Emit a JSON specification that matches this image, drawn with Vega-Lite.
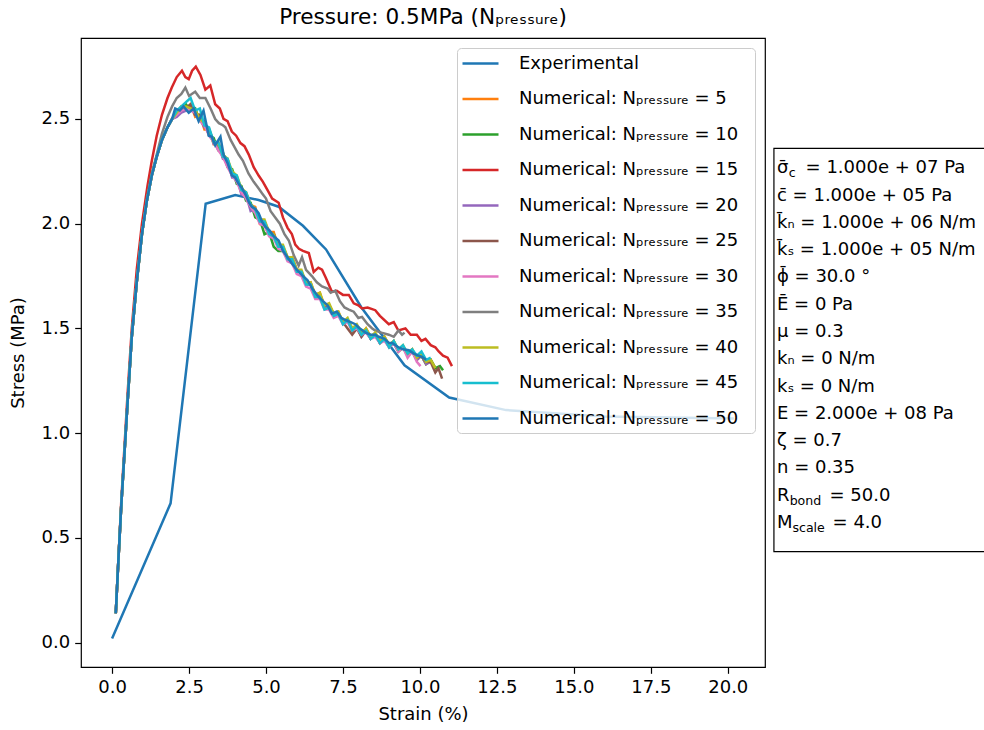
{
"$schema": "https://vega.github.io/schema/vega-lite/v6.json",
"width": 684, "height": 629,
"autosize": {"type": "none"},
"padding": {"left": 81, "top": 38, "right": 219, "bottom": 63},
"background": "white",
"title": {"text": "Pressure: 0.5MPa (Nₚᵣₑₛₛᵤᵣₑ)", "font": "DejaVu Sans", "fontSize": 21.6, "fontWeight": "normal", "color": "black", "anchor": "middle", "offset": 9},
"config": {
  "view": {"stroke": "black", "strokeWidth": 1.2},
  "axis": {"domain": false, "grid": false, "tickColor": "black", "tickSize": 6.3, "tickWidth": 1.2, "labelFont": "DejaVu Sans", "labelFontSize": 18, "labelColor": "black", "labelPadding": 5, "titleFont": "DejaVu Sans", "titleFontSize": 18, "titleFontWeight": "normal", "titleColor": "black"},
  "text": {"font": "DejaVu Sans"}
},
"layer": [
{
"data": {"values": [
{"s":"Experimental","x":0,"y":0.02},{"s":"Experimental","x":1.9,"y":0.665},{"s":"Experimental","x":3.04,"y":2.095},{"s":"Experimental","x":4.0,"y":2.137},{"s":"Experimental","x":4.76,"y":2.113},{"s":"Experimental","x":5.41,"y":2.081},{"s":"Experimental","x":6.2,"y":1.99},{"s":"Experimental","x":6.95,"y":1.877},{"s":"Experimental","x":8.1,"y":1.6},{"s":"Experimental","x":9.5,"y":1.324},{"s":"Experimental","x":10.95,"y":1.17},{"s":"Experimental","x":12.8,"y":1.11},{"s":"Experimental","x":16.0,"y":1.08},{"s":"Experimental","x":20.2,"y":1.07},

{"s":"5","x":0.12,"y":0.14},{"s":"5","x":0.2,"y":0.38},{"s":"5","x":0.3,"y":0.66},{"s":"5","x":0.4,"y":0.9},{"s":"5","x":0.5,"y":1.14},{"s":"5","x":0.64,"y":1.46},{"s":"5","x":0.8,"y":1.72},{"s":"5","x":0.97,"y":1.95},{"s":"5","x":1.13,"y":2.11},{"s":"5","x":1.29,"y":2.23},{"s":"5","x":1.45,"y":2.32},{"s":"5","x":1.62,"y":2.4},{"s":"5","x":1.8,"y":2.46},{"s":"5","x":1.95,"y":2.5},
{"s":"5","x":2.1,"y":2.53},{"s":"5","x":2.25,"y":2.56},{"s":"5","x":2.4,"y":2.55},{"s":"5","x":2.55,"y":2.57},{"s":"5","x":2.7,"y":2.51},{"s":"5","x":2.85,"y":2.52},{"s":"5","x":3.0,"y":2.45},{"s":"5","x":3.15,"y":2.45},{"s":"5","x":3.3,"y":2.38},{"s":"5","x":3.45,"y":2.39},{"s":"5","x":3.6,"y":2.32},{"s":"5","x":3.75,"y":2.31},{"s":"5","x":3.9,"y":2.23},{"s":"5","x":4.05,"y":2.22},{"s":"5","x":4.2,"y":2.15},{"s":"5","x":4.35,"y":2.15},{"s":"5","x":4.5,"y":2.09},{"s":"5","x":4.65,"y":2.08},{"s":"5","x":4.8,"y":2.0},{"s":"5","x":4.95,"y":2.01},{"s":"5","x":5.1,"y":1.96},{"s":"5","x":5.25,"y":1.96},{"s":"5","x":5.4,"y":1.89},{"s":"5","x":5.55,"y":1.89},{"s":"5","x":5.7,"y":1.83},{"s":"5","x":5.85,"y":1.84},{"s":"5","x":6.0,"y":1.78},{"s":"5","x":6.15,"y":1.77},{"s":"5","x":6.3,"y":1.71},{"s":"5","x":6.45,"y":1.72},{"s":"5","x":6.6,"y":1.66},{"s":"5","x":6.75,"y":1.67},{"s":"5","x":6.9,"y":1.6},{"s":"5","x":7.05,"y":1.61},{"s":"5","x":7.2,"y":1.57},{"s":"5","x":7.35,"y":1.58},{"s":"5","x":7.5,"y":1.525},{"s":"5","x":7.65,"y":1.54},{"s":"5","x":7.8,"y":1.485},{"s":"5","x":7.95,"y":1.51},{"s":"5","x":8.1,"y":1.47},{"s":"5","x":8.25,"y":1.5},{"s":"5","x":8.4,"y":1.46},{"s":"5","x":8.55,"y":1.47},{"s":"5","x":8.7,"y":1.43},{"s":"5","x":8.85,"y":1.46},{"s":"5","x":9.0,"y":1.42},{"s":"5","x":9.15,"y":1.44},{"s":"5","x":9.3,"y":1.39},{"s":"5","x":9.45,"y":1.41},{"s":"5","x":9.6,"y":1.38},{"s":"5","x":9.75,"y":1.4},{"s":"5","x":9.9,"y":1.35},{"s":"5","x":10.05,"y":1.37},{"s":"5","x":10.2,"y":1.33},{"s":"5","x":10.35,"y":1.35},{"s":"5","x":10.5,"y":1.31},{"s":"5","x":10.65,"y":1.3},

{"s":"10","x":0.12,"y":0.14},{"s":"10","x":0.2,"y":0.38},{"s":"10","x":0.3,"y":0.66},{"s":"10","x":0.4,"y":0.9},{"s":"10","x":0.5,"y":1.14},{"s":"10","x":0.64,"y":1.46},{"s":"10","x":0.8,"y":1.72},{"s":"10","x":0.97,"y":1.95},{"s":"10","x":1.13,"y":2.11},{"s":"10","x":1.29,"y":2.23},{"s":"10","x":1.45,"y":2.32},{"s":"10","x":1.62,"y":2.4},{"s":"10","x":1.8,"y":2.46},{"s":"10","x":1.95,"y":2.5},
{"s":"10","x":2.1,"y":2.52},{"s":"10","x":2.25,"y":2.54},{"s":"10","x":2.4,"y":2.57},{"s":"10","x":2.55,"y":2.54},{"s":"10","x":2.7,"y":2.55},{"s":"10","x":2.85,"y":2.49},{"s":"10","x":3.0,"y":2.49},{"s":"10","x":3.15,"y":2.42},{"s":"10","x":3.3,"y":2.41},{"s":"10","x":3.45,"y":2.35},{"s":"10","x":3.6,"y":2.34},{"s":"10","x":3.75,"y":2.27},{"s":"10","x":3.9,"y":2.26},{"s":"10","x":4.05,"y":2.19},{"s":"10","x":4.2,"y":2.18},{"s":"10","x":4.35,"y":2.11},{"s":"10","x":4.5,"y":2.1},{"s":"10","x":4.65,"y":2.03},{"s":"10","x":4.8,"y":2.02},{"s":"10","x":4.95,"y":1.95},{"s":"10","x":5.1,"y":1.96},{"s":"10","x":5.25,"y":1.89},{"s":"10","x":5.4,"y":1.87},{"s":"10","x":5.55,"y":1.87},{"s":"10","x":5.7,"y":1.83},{"s":"10","x":5.85,"y":1.83},{"s":"10","x":6.0,"y":1.77},{"s":"10","x":6.15,"y":1.77},{"s":"10","x":6.3,"y":1.71},{"s":"10","x":6.45,"y":1.71},{"s":"10","x":6.6,"y":1.65},{"s":"10","x":6.75,"y":1.66},{"s":"10","x":6.9,"y":1.6},{"s":"10","x":7.05,"y":1.61},{"s":"10","x":7.2,"y":1.56},{"s":"10","x":7.35,"y":1.57},{"s":"10","x":7.5,"y":1.53},{"s":"10","x":7.65,"y":1.54},{"s":"10","x":7.8,"y":1.5},{"s":"10","x":7.95,"y":1.51},{"s":"10","x":8.1,"y":1.47},{"s":"10","x":8.25,"y":1.49},{"s":"10","x":8.4,"y":1.45},{"s":"10","x":8.55,"y":1.47},{"s":"10","x":8.7,"y":1.43},{"s":"10","x":8.85,"y":1.45},{"s":"10","x":9.0,"y":1.41},{"s":"10","x":9.15,"y":1.43},{"s":"10","x":9.3,"y":1.39},{"s":"10","x":9.45,"y":1.41},{"s":"10","x":9.6,"y":1.37},{"s":"10","x":9.75,"y":1.39},{"s":"10","x":9.9,"y":1.35},{"s":"10","x":10.05,"y":1.37},{"s":"10","x":10.2,"y":1.33},{"s":"10","x":10.35,"y":1.35},{"s":"10","x":10.5,"y":1.31},{"s":"10","x":10.65,"y":1.32},{"s":"10","x":10.75,"y":1.3},

{"s":"15","x":0.12,"y":0.14},{"s":"15","x":0.3,"y":0.68},{"s":"15","x":0.5,"y":1.18},{"s":"15","x":0.64,"y":1.5},{"s":"15","x":0.8,"y":1.78},{"s":"15","x":0.97,"y":2.0},{"s":"15","x":1.15,"y":2.18},{"s":"15","x":1.29,"y":2.3},{"s":"15","x":1.45,"y":2.42},{"s":"15","x":1.62,"y":2.52},{"s":"15","x":1.8,"y":2.6},{"s":"15","x":1.94,"y":2.65},{"s":"15","x":2.1,"y":2.7},{"s":"15","x":2.27,"y":2.73},{"s":"15","x":2.38,"y":2.7},{"s":"15","x":2.49,"y":2.69},{"s":"15","x":2.6,"y":2.73},{"s":"15","x":2.72,"y":2.75},{"s":"15","x":2.87,"y":2.71},{"s":"15","x":3.03,"y":2.64},{"s":"15","x":3.19,"y":2.66},{"s":"15","x":3.35,"y":2.57},{"s":"15","x":3.5,"y":2.55},{"s":"15","x":3.62,"y":2.5},{"s":"15","x":3.75,"y":2.49},{"s":"15","x":3.89,"y":2.44},{"s":"15","x":4.03,"y":2.42},{"s":"15","x":4.17,"y":2.385},{"s":"15","x":4.3,"y":2.37},{"s":"15","x":4.44,"y":2.33},{"s":"15","x":4.6,"y":2.27},{"s":"15","x":4.76,"y":2.23},{"s":"15","x":4.9,"y":2.2},{"s":"15","x":5.05,"y":2.16},{"s":"15","x":5.2,"y":2.12},{"s":"15","x":5.41,"y":2.1},{"s":"15","x":5.55,"y":2.03},{"s":"15","x":5.7,"y":1.98},{"s":"15","x":5.84,"y":1.95},{"s":"15","x":5.95,"y":1.9},{"s":"15","x":6.07,"y":1.88},{"s":"15","x":6.2,"y":1.87},{"s":"15","x":6.39,"y":1.86},{"s":"15","x":6.55,"y":1.77},{"s":"15","x":6.7,"y":1.79},{"s":"15","x":6.82,"y":1.78},{"s":"15","x":6.95,"y":1.74},{"s":"15","x":7.14,"y":1.675},{"s":"15","x":7.3,"y":1.68},{"s":"15","x":7.5,"y":1.66},{"s":"15","x":7.69,"y":1.66},{"s":"15","x":7.85,"y":1.62},{"s":"15","x":8.0,"y":1.61},{"s":"15","x":8.12,"y":1.595},{"s":"15","x":8.3,"y":1.6},{"s":"15","x":8.55,"y":1.587},{"s":"15","x":8.7,"y":1.56},{"s":"15","x":8.99,"y":1.52},{"s":"15","x":9.15,"y":1.53},{"s":"15","x":9.3,"y":1.49},{"s":"15","x":9.53,"y":1.5},{"s":"15","x":9.7,"y":1.47},{"s":"15","x":9.9,"y":1.47},{"s":"15","x":10.05,"y":1.44},{"s":"15","x":10.18,"y":1.45},{"s":"15","x":10.35,"y":1.42},{"s":"15","x":10.5,"y":1.41},{"s":"15","x":10.61,"y":1.39},{"s":"15","x":10.75,"y":1.37},{"s":"15","x":10.9,"y":1.36},{"s":"15","x":11.04,"y":1.32},

{"s":"20","x":0.12,"y":0.14},{"s":"20","x":0.2,"y":0.38},{"s":"20","x":0.3,"y":0.66},{"s":"20","x":0.4,"y":0.9},{"s":"20","x":0.5,"y":1.14},{"s":"20","x":0.64,"y":1.46},{"s":"20","x":0.8,"y":1.72},{"s":"20","x":0.97,"y":1.95},{"s":"20","x":1.13,"y":2.11},{"s":"20","x":1.29,"y":2.23},{"s":"20","x":1.45,"y":2.32},{"s":"20","x":1.62,"y":2.4},{"s":"20","x":1.8,"y":2.46},{"s":"20","x":1.95,"y":2.5},
{"s":"20","x":2.1,"y":2.51},{"s":"20","x":2.25,"y":2.53},{"s":"20","x":2.4,"y":2.54},{"s":"20","x":2.55,"y":2.56},{"s":"20","x":2.7,"y":2.52},{"s":"20","x":2.85,"y":2.5},{"s":"20","x":3.0,"y":2.46},{"s":"20","x":3.15,"y":2.45},{"s":"20","x":3.3,"y":2.38},{"s":"20","x":3.45,"y":2.38},{"s":"20","x":3.6,"y":2.31},{"s":"20","x":3.75,"y":2.3},{"s":"20","x":3.9,"y":2.22},{"s":"20","x":4.05,"y":2.22},{"s":"20","x":4.2,"y":2.14},{"s":"20","x":4.35,"y":2.14},{"s":"20","x":4.5,"y":2.06},{"s":"20","x":4.65,"y":2.07},{"s":"20","x":4.8,"y":2.01},{"s":"20","x":4.95,"y":2.01},{"s":"20","x":5.1,"y":1.95},{"s":"20","x":5.25,"y":1.95},{"s":"20","x":5.4,"y":1.89},{"s":"20","x":5.55,"y":1.89},{"s":"20","x":5.7,"y":1.83},{"s":"20","x":5.85,"y":1.83},{"s":"20","x":6.0,"y":1.77},{"s":"20","x":6.15,"y":1.77},{"s":"20","x":6.3,"y":1.71},{"s":"20","x":6.45,"y":1.71},{"s":"20","x":6.6,"y":1.65},{"s":"20","x":6.75,"y":1.66},{"s":"20","x":6.9,"y":1.6},{"s":"20","x":7.05,"y":1.61},{"s":"20","x":7.2,"y":1.56},{"s":"20","x":7.35,"y":1.57},{"s":"20","x":7.5,"y":1.52},{"s":"20","x":7.65,"y":1.54},{"s":"20","x":7.8,"y":1.49},{"s":"20","x":7.95,"y":1.51},{"s":"20","x":8.1,"y":1.46},{"s":"20","x":8.25,"y":1.49},{"s":"20","x":8.4,"y":1.45},{"s":"20","x":8.55,"y":1.47},{"s":"20","x":8.7,"y":1.43},{"s":"20","x":8.85,"y":1.45},{"s":"20","x":9.0,"y":1.41},{"s":"20","x":9.15,"y":1.43},{"s":"20","x":9.3,"y":1.39},{"s":"20","x":9.45,"y":1.41},{"s":"20","x":9.6,"y":1.37},{"s":"20","x":9.75,"y":1.39},{"s":"20","x":9.9,"y":1.35},{"s":"20","x":10.05,"y":1.37},{"s":"20","x":10.2,"y":1.33},{"s":"20","x":10.35,"y":1.34},

{"s":"25","x":0.12,"y":0.14},{"s":"25","x":0.2,"y":0.38},{"s":"25","x":0.3,"y":0.66},{"s":"25","x":0.4,"y":0.9},{"s":"25","x":0.5,"y":1.14},{"s":"25","x":0.64,"y":1.46},{"s":"25","x":0.8,"y":1.72},{"s":"25","x":0.97,"y":1.95},{"s":"25","x":1.13,"y":2.11},{"s":"25","x":1.29,"y":2.23},{"s":"25","x":1.45,"y":2.32},{"s":"25","x":1.62,"y":2.4},{"s":"25","x":1.8,"y":2.46},{"s":"25","x":1.95,"y":2.5},
{"s":"25","x":2.1,"y":2.53},{"s":"25","x":2.25,"y":2.55},{"s":"25","x":2.4,"y":2.55},{"s":"25","x":2.55,"y":2.57},{"s":"25","x":2.7,"y":2.52},{"s":"25","x":2.85,"y":2.52},{"s":"25","x":3.0,"y":2.47},{"s":"25","x":3.15,"y":2.45},{"s":"25","x":3.3,"y":2.39},{"s":"25","x":3.45,"y":2.38},{"s":"25","x":3.6,"y":2.32},{"s":"25","x":3.75,"y":2.3},{"s":"25","x":3.9,"y":2.24},{"s":"25","x":4.05,"y":2.22},{"s":"25","x":4.2,"y":2.16},{"s":"25","x":4.35,"y":2.14},{"s":"25","x":4.5,"y":2.08},{"s":"25","x":4.65,"y":2.07},{"s":"25","x":4.8,"y":2.02},{"s":"25","x":4.95,"y":2.01},{"s":"25","x":5.1,"y":1.96},{"s":"25","x":5.25,"y":1.95},{"s":"25","x":5.4,"y":1.9},{"s":"25","x":5.55,"y":1.89},{"s":"25","x":5.7,"y":1.84},{"s":"25","x":5.85,"y":1.83},{"s":"25","x":6.0,"y":1.78},{"s":"25","x":6.15,"y":1.77},{"s":"25","x":6.3,"y":1.72},{"s":"25","x":6.45,"y":1.71},{"s":"25","x":6.6,"y":1.66},{"s":"25","x":6.75,"y":1.66},{"s":"25","x":6.9,"y":1.61},{"s":"25","x":7.05,"y":1.61},{"s":"25","x":7.2,"y":1.57},{"s":"25","x":7.35,"y":1.57},{"s":"25","x":7.5,"y":1.53},{"s":"25","x":7.65,"y":1.5},{"s":"25","x":7.8,"y":1.47},{"s":"25","x":7.95,"y":1.5},{"s":"25","x":8.1,"y":1.46},{"s":"25","x":8.25,"y":1.49},{"s":"25","x":8.4,"y":1.45},{"s":"25","x":8.55,"y":1.47},{"s":"25","x":8.7,"y":1.44},{"s":"25","x":8.85,"y":1.45},{"s":"25","x":9.0,"y":1.42},{"s":"25","x":9.15,"y":1.43},{"s":"25","x":9.3,"y":1.4},{"s":"25","x":9.45,"y":1.41},{"s":"25","x":9.6,"y":1.38},{"s":"25","x":9.75,"y":1.39},{"s":"25","x":9.9,"y":1.36},{"s":"25","x":10.05,"y":1.37},{"s":"25","x":10.2,"y":1.34},{"s":"25","x":10.35,"y":1.34},{"s":"25","x":10.5,"y":1.29},{"s":"25","x":10.6,"y":1.31},{"s":"25","x":10.72,"y":1.26},

{"s":"30","x":0.12,"y":0.14},{"s":"30","x":0.2,"y":0.38},{"s":"30","x":0.3,"y":0.66},{"s":"30","x":0.4,"y":0.9},{"s":"30","x":0.5,"y":1.14},{"s":"30","x":0.64,"y":1.46},{"s":"30","x":0.8,"y":1.72},{"s":"30","x":0.97,"y":1.95},{"s":"30","x":1.13,"y":2.11},{"s":"30","x":1.29,"y":2.23},{"s":"30","x":1.45,"y":2.32},{"s":"30","x":1.62,"y":2.4},{"s":"30","x":1.8,"y":2.46},{"s":"30","x":1.95,"y":2.5},
{"s":"30","x":2.1,"y":2.52},{"s":"30","x":2.25,"y":2.54},{"s":"30","x":2.4,"y":2.55},{"s":"30","x":2.55,"y":2.54},{"s":"30","x":2.7,"y":2.53},{"s":"30","x":2.85,"y":2.49},{"s":"30","x":3.0,"y":2.47},{"s":"30","x":3.15,"y":2.42},{"s":"30","x":3.3,"y":2.39},{"s":"30","x":3.45,"y":2.35},{"s":"30","x":3.6,"y":2.32},{"s":"30","x":3.75,"y":2.27},{"s":"30","x":3.9,"y":2.23},{"s":"30","x":4.05,"y":2.2},{"s":"30","x":4.2,"y":2.15},{"s":"30","x":4.35,"y":2.12},{"s":"30","x":4.5,"y":2.08},{"s":"30","x":4.65,"y":2.05},{"s":"30","x":4.8,"y":2.0},{"s":"30","x":4.95,"y":1.99},{"s":"30","x":5.1,"y":1.94},{"s":"30","x":5.25,"y":1.93},{"s":"30","x":5.4,"y":1.88},{"s":"30","x":5.55,"y":1.87},{"s":"30","x":5.7,"y":1.82},{"s":"30","x":5.85,"y":1.81},{"s":"30","x":6.0,"y":1.76},{"s":"30","x":6.15,"y":1.75},{"s":"30","x":6.3,"y":1.7},{"s":"30","x":6.45,"y":1.69},{"s":"30","x":6.6,"y":1.64},{"s":"30","x":6.75,"y":1.64},{"s":"30","x":6.9,"y":1.59},{"s":"30","x":7.05,"y":1.59},{"s":"30","x":7.2,"y":1.55},{"s":"30","x":7.35,"y":1.56},{"s":"30","x":7.5,"y":1.52},{"s":"30","x":7.65,"y":1.53},{"s":"30","x":7.8,"y":1.49},{"s":"30","x":7.95,"y":1.5},{"s":"30","x":8.1,"y":1.47},{"s":"30","x":8.25,"y":1.48},{"s":"30","x":8.4,"y":1.45},{"s":"30","x":8.55,"y":1.46},{"s":"30","x":8.7,"y":1.43},{"s":"30","x":8.85,"y":1.44},{"s":"30","x":9.0,"y":1.41},{"s":"30","x":9.15,"y":1.43},{"s":"30","x":9.3,"y":1.39},{"s":"30","x":9.45,"y":1.41},{"s":"30","x":9.6,"y":1.36},{"s":"30","x":9.75,"y":1.39},{"s":"30","x":9.9,"y":1.34},{"s":"30","x":10.02,"y":1.32},

{"s":"35","x":0.12,"y":0.14},{"s":"35","x":0.2,"y":0.38},{"s":"35","x":0.3,"y":0.66},{"s":"35","x":0.4,"y":0.9},{"s":"35","x":0.5,"y":1.14},{"s":"35","x":0.64,"y":1.46},{"s":"35","x":0.8,"y":1.72},{"s":"35","x":0.97,"y":1.95},{"s":"35","x":1.13,"y":2.12},{"s":"35","x":1.29,"y":2.24},{"s":"35","x":1.45,"y":2.33},{"s":"35","x":1.62,"y":2.43},{"s":"35","x":1.8,"y":2.51},{"s":"35","x":1.95,"y":2.56},{"s":"35","x":2.1,"y":2.6},{"s":"35","x":2.25,"y":2.62},{"s":"35","x":2.38,"y":2.65},{"s":"35","x":2.5,"y":2.61},{"s":"35","x":2.6,"y":2.62},{"s":"35","x":2.7,"y":2.63},{"s":"35","x":2.85,"y":2.6},{"s":"35","x":3.03,"y":2.6},{"s":"35","x":3.2,"y":2.55},{"s":"35","x":3.35,"y":2.5},{"s":"35","x":3.47,"y":2.48},{"s":"35","x":3.6,"y":2.47},{"s":"35","x":3.68,"y":2.46},{"s":"35","x":3.85,"y":2.4},{"s":"35","x":4.0,"y":2.36},{"s":"35","x":4.11,"y":2.33},{"s":"35","x":4.25,"y":2.3},{"s":"35","x":4.43,"y":2.24},{"s":"35","x":4.6,"y":2.2},{"s":"35","x":4.75,"y":2.17},{"s":"35","x":4.87,"y":2.145},{"s":"35","x":5.0,"y":2.12},{"s":"35","x":5.15,"y":2.06},{"s":"35","x":5.3,"y":2.03},{"s":"35","x":5.45,"y":2.0},{"s":"35","x":5.6,"y":1.95},{"s":"35","x":5.74,"y":1.92},{"s":"35","x":5.9,"y":1.85},{"s":"35","x":6.06,"y":1.8},{"s":"35","x":6.17,"y":1.84},{"s":"35","x":6.3,"y":1.78},{"s":"35","x":6.49,"y":1.75},{"s":"35","x":6.65,"y":1.72},{"s":"35","x":6.82,"y":1.7},{"s":"35","x":7.0,"y":1.69},{"s":"35","x":7.1,"y":1.67},{"s":"35","x":7.25,"y":1.68},{"s":"35","x":7.4,"y":1.63},{"s":"35","x":7.55,"y":1.6},{"s":"35","x":7.69,"y":1.59},{"s":"35","x":7.85,"y":1.58},{"s":"35","x":8.0,"y":1.55},{"s":"35","x":8.12,"y":1.555},{"s":"35","x":8.3,"y":1.52},{"s":"35","x":8.45,"y":1.5},{"s":"35","x":8.55,"y":1.49},{"s":"35","x":8.75,"y":1.48},{"s":"35","x":8.99,"y":1.47},{"s":"35","x":9.15,"y":1.46},{"s":"35","x":9.3,"y":1.49},{"s":"35","x":9.42,"y":1.47},{"s":"35","x":9.5,"y":1.48},

{"s":"40","x":0.12,"y":0.14},{"s":"40","x":0.2,"y":0.38},{"s":"40","x":0.3,"y":0.66},{"s":"40","x":0.4,"y":0.9},{"s":"40","x":0.5,"y":1.14},{"s":"40","x":0.64,"y":1.46},{"s":"40","x":0.8,"y":1.72},{"s":"40","x":0.97,"y":1.95},{"s":"40","x":1.13,"y":2.11},{"s":"40","x":1.29,"y":2.23},{"s":"40","x":1.45,"y":2.32},{"s":"40","x":1.62,"y":2.4},{"s":"40","x":1.8,"y":2.46},{"s":"40","x":1.95,"y":2.5},
{"s":"40","x":2.1,"y":2.53},{"s":"40","x":2.25,"y":2.56},{"s":"40","x":2.4,"y":2.56},{"s":"40","x":2.55,"y":2.55},{"s":"40","x":2.7,"y":2.54},{"s":"40","x":2.85,"y":2.5},{"s":"40","x":3.0,"y":2.48},{"s":"40","x":3.15,"y":2.45},{"s":"40","x":3.3,"y":2.39},{"s":"40","x":3.45,"y":2.38},{"s":"40","x":3.6,"y":2.33},{"s":"40","x":3.75,"y":2.31},{"s":"40","x":3.9,"y":2.25},{"s":"40","x":4.05,"y":2.23},{"s":"40","x":4.2,"y":2.17},{"s":"40","x":4.35,"y":2.15},{"s":"40","x":4.5,"y":2.09},{"s":"40","x":4.65,"y":2.07},{"s":"40","x":4.8,"y":2.02},{"s":"40","x":4.95,"y":2.02},{"s":"40","x":5.1,"y":1.96},{"s":"40","x":5.25,"y":1.95},{"s":"40","x":5.4,"y":1.9},{"s":"40","x":5.55,"y":1.9},{"s":"40","x":5.7,"y":1.84},{"s":"40","x":5.85,"y":1.84},{"s":"40","x":6.0,"y":1.78},{"s":"40","x":6.15,"y":1.78},{"s":"40","x":6.3,"y":1.72},{"s":"40","x":6.45,"y":1.72},{"s":"40","x":6.6,"y":1.66},{"s":"40","x":6.75,"y":1.67},{"s":"40","x":6.9,"y":1.61},{"s":"40","x":7.05,"y":1.62},{"s":"40","x":7.2,"y":1.57},{"s":"40","x":7.35,"y":1.58},{"s":"40","x":7.5,"y":1.53},{"s":"40","x":7.65,"y":1.55},{"s":"40","x":7.8,"y":1.5},{"s":"40","x":7.95,"y":1.52},{"s":"40","x":8.1,"y":1.48},{"s":"40","x":8.25,"y":1.5},{"s":"40","x":8.4,"y":1.46},{"s":"40","x":8.55,"y":1.48},{"s":"40","x":8.7,"y":1.44},{"s":"40","x":8.85,"y":1.46},{"s":"40","x":9.0,"y":1.42},{"s":"40","x":9.15,"y":1.44},{"s":"40","x":9.3,"y":1.4},{"s":"40","x":9.45,"y":1.42},{"s":"40","x":9.6,"y":1.38},{"s":"40","x":9.75,"y":1.4},{"s":"40","x":9.9,"y":1.36},{"s":"40","x":10.05,"y":1.38},{"s":"40","x":10.2,"y":1.34},{"s":"40","x":10.35,"y":1.35},{"s":"40","x":10.5,"y":1.31},

{"s":"45","x":0.12,"y":0.14},{"s":"45","x":0.2,"y":0.38},{"s":"45","x":0.3,"y":0.66},{"s":"45","x":0.4,"y":0.9},{"s":"45","x":0.5,"y":1.14},{"s":"45","x":0.64,"y":1.46},{"s":"45","x":0.8,"y":1.72},{"s":"45","x":0.97,"y":1.95},{"s":"45","x":1.13,"y":2.11},{"s":"45","x":1.29,"y":2.23},{"s":"45","x":1.45,"y":2.32},{"s":"45","x":1.62,"y":2.4},{"s":"45","x":1.8,"y":2.46},{"s":"45","x":1.95,"y":2.5},
{"s":"45","x":2.1,"y":2.54},{"s":"45","x":2.25,"y":2.56},{"s":"45","x":2.4,"y":2.58},{"s":"45","x":2.55,"y":2.6},{"s":"45","x":2.7,"y":2.54},{"s":"45","x":2.85,"y":2.55},{"s":"45","x":3.0,"y":2.47},{"s":"45","x":3.15,"y":2.46},{"s":"45","x":3.3,"y":2.39},{"s":"45","x":3.45,"y":2.39},{"s":"45","x":3.6,"y":2.32},{"s":"45","x":3.75,"y":2.31},{"s":"45","x":3.9,"y":2.24},{"s":"45","x":4.05,"y":2.23},{"s":"45","x":4.2,"y":2.16},{"s":"45","x":4.35,"y":2.15},{"s":"45","x":4.5,"y":2.09},{"s":"45","x":4.65,"y":2.07},{"s":"45","x":4.8,"y":2.01},{"s":"45","x":4.95,"y":2.01},{"s":"45","x":5.1,"y":1.95},{"s":"45","x":5.25,"y":1.94},{"s":"45","x":5.4,"y":1.89},{"s":"45","x":5.55,"y":1.89},{"s":"45","x":5.7,"y":1.83},{"s":"45","x":5.85,"y":1.83},{"s":"45","x":6.0,"y":1.77},{"s":"45","x":6.15,"y":1.77},{"s":"45","x":6.3,"y":1.71},{"s":"45","x":6.45,"y":1.71},{"s":"45","x":6.6,"y":1.65},{"s":"45","x":6.75,"y":1.65},{"s":"45","x":6.9,"y":1.59},{"s":"45","x":7.05,"y":1.6},{"s":"45","x":7.2,"y":1.56},{"s":"45","x":7.35,"y":1.57},{"s":"45","x":7.5,"y":1.52},{"s":"45","x":7.65,"y":1.54},{"s":"45","x":7.8,"y":1.49},{"s":"45","x":7.95,"y":1.51},{"s":"45","x":8.1,"y":1.47},{"s":"45","x":8.25,"y":1.49},{"s":"45","x":8.4,"y":1.45},{"s":"45","x":8.55,"y":1.47},{"s":"45","x":8.7,"y":1.43},{"s":"45","x":8.85,"y":1.45},{"s":"45","x":9.0,"y":1.41},{"s":"45","x":9.15,"y":1.44},{"s":"45","x":9.3,"y":1.4},{"s":"45","x":9.45,"y":1.42},{"s":"45","x":9.6,"y":1.38},{"s":"45","x":9.75,"y":1.4},{"s":"45","x":9.9,"y":1.37},{"s":"45","x":10.05,"y":1.39},{"s":"45","x":10.2,"y":1.35},{"s":"45","x":10.35,"y":1.36},

{"s":"50","x":0.12,"y":0.14},{"s":"50","x":0.2,"y":0.38},{"s":"50","x":0.3,"y":0.66},{"s":"50","x":0.4,"y":0.9},{"s":"50","x":0.5,"y":1.14},{"s":"50","x":0.64,"y":1.46},{"s":"50","x":0.8,"y":1.72},{"s":"50","x":0.97,"y":1.95},{"s":"50","x":1.13,"y":2.11},{"s":"50","x":1.29,"y":2.23},{"s":"50","x":1.45,"y":2.32},{"s":"50","x":1.62,"y":2.4},{"s":"50","x":1.8,"y":2.46},{"s":"50","x":1.95,"y":2.5},
{"s":"50","x":2.05,"y":2.55},{"s":"50","x":2.2,"y":2.54},{"s":"50","x":2.32,"y":2.56},{"s":"50","x":2.49,"y":2.53},{"s":"50","x":2.65,"y":2.55},{"s":"50","x":2.81,"y":2.49},{"s":"50","x":2.97,"y":2.54},{"s":"50","x":3.14,"y":2.42},{"s":"50","x":3.24,"y":2.415},{"s":"50","x":3.35,"y":2.375},{"s":"50","x":3.52,"y":2.415},{"s":"50","x":3.62,"y":2.33},{"s":"50","x":3.75,"y":2.29},{"s":"50","x":3.89,"y":2.23},{"s":"50","x":4.0,"y":2.22},{"s":"50","x":4.11,"y":2.19},{"s":"50","x":4.22,"y":2.17},{"s":"50","x":4.33,"y":2.14},{"s":"50","x":4.45,"y":2.1},{"s":"50","x":4.54,"y":2.08},{"s":"50","x":4.65,"y":2.07},{"s":"50","x":4.76,"y":2.05},{"s":"50","x":4.87,"y":2.01},{"s":"50","x":4.98,"y":1.985},{"s":"50","x":5.1,"y":1.97},{"s":"50","x":5.25,"y":1.94},{"s":"50","x":5.41,"y":1.92},{"s":"50","x":5.55,"y":1.87},{"s":"50","x":5.7,"y":1.84},{"s":"50","x":5.84,"y":1.81},{"s":"50","x":6.0,"y":1.78},{"s":"50","x":6.07,"y":1.77},{"s":"50","x":6.2,"y":1.75},{"s":"50","x":6.35,"y":1.73},{"s":"50","x":6.5,"y":1.69},{"s":"50","x":6.71,"y":1.65},{"s":"50","x":6.85,"y":1.63},{"s":"50","x":7.0,"y":1.61},{"s":"50","x":7.14,"y":1.57},{"s":"50","x":7.3,"y":1.58},{"s":"50","x":7.45,"y":1.55},{"s":"50","x":7.58,"y":1.54},{"s":"50","x":7.75,"y":1.53},{"s":"50","x":7.9,"y":1.52},{"s":"50","x":8.05,"y":1.5},{"s":"50","x":8.23,"y":1.48},{"s":"50","x":8.4,"y":1.47},{"s":"50","x":8.55,"y":1.47},{"s":"50","x":8.66,"y":1.46},{"s":"50","x":8.85,"y":1.45},{"s":"50","x":9.0,"y":1.43},{"s":"50","x":9.1,"y":1.43},{"s":"50","x":9.3,"y":1.41},{"s":"50","x":9.45,"y":1.4},{"s":"50","x":9.64,"y":1.396},{"s":"50","x":9.8,"y":1.38},{"s":"50","x":9.95,"y":1.37},{"s":"50","x":10.07,"y":1.364},{"s":"50","x":10.2,"y":1.35}
]},
"mark": {"type": "line", "strokeWidth": 2.5},
"encoding": {
  "x": {"field": "x", "type": "quantitative", "title": "Strain (%)", "scale": {"domain": [-1.01, 21.21], "nice": false, "zero": false}, "axis": {"values": [0, 2.5, 5, 7.5, 10, 12.5, 15, 17.5, 20], "format": ".1f", "titlePadding": 9}},
  "y": {"field": "y", "type": "quantitative", "title": "Stress (MPa)", "scale": {"domain": [-0.1165, 2.8865], "nice": false, "zero": false}, "axis": {"values": [0, 0.5, 1, 1.5, 2, 2.5], "format": ".1f", "titlePadding": 14}},
  "color": {"field": "s", "type": "nominal",
    "scale": {"domain": ["Experimental","5","10","15","20","25","30","35","40","45","50"], "range": ["#1f77b4","#ff7f0e","#2ca02c","#d62728","#9467bd","#8c564b","#e377c2","#7f7f7f","#bcbd22","#17becf","#1f77b4"]},
    "legend": {"title": null, "orient": "top-right", "offset": 10, "labelExpr": "datum.label == 'Experimental' ? 'Experimental' : 'Numerical: Nₚᵣₑₛₛᵤᵣₑ = ' + datum.label + '\u00a0\u00a0\u200b'", "symbolType": "M-2,0H2", "symbolSize": 324, "symbolStrokeWidth": 2.5, "labelFont": "DejaVu Sans", "labelFontSize": 18, "labelColor": "black", "padding": 5, "rowPadding": 15.5, "fillColor": "rgba(255,255,255,0.8)", "strokeColor": "#cccccc", "cornerRadius": 4, "labelLimit": 400, "symbolOffset": 8, "labelOffset": 28}
  }
}
},
{
"data": {"values": [{}]},
"mark": {"type": "rect", "fill": "white", "stroke": "black", "strokeWidth": 1.2, "clip": false},
"encoding": {"x": {"datum": 21.5}, "x2": {"datum": 50}, "y": {"datum": 2.36}, "y2": {"datum": 0.434}}
},
{
"data": {"values": [{}]},
"mark": {"type": "text", "align": "left", "baseline": "middle", "fontSize": 18, "lineHeight": 27.28, "color": "black", "font": "DejaVu Sans", "clip": false},
"encoding": {"x": {"datum": 21.6}, "y": {"datum": 2.2645},
  "text": {"value": ["σ̄\u00a0\u00a0 = 1.000e + 07 Pa", "c̄ = 1.000e + 05 Pa", "k̄ₙ = 1.000e + 06 N/m", "k̄ₛ = 1.000e + 05 N/m", "ϕ̄ = 30.0 °", "Ē = 0 Pa", "μ = 0.3", "kₙ = 0 N/m", "kₛ = 0 N/m", "E = 2.000e + 08 Pa", "ζ = 0.7", "n = 0.35", "R\u00a0\u00a0\u00a0\u00a0\u00a0\u00a0 = 50.0", "M\u00a0\u00a0\u00a0\u00a0\u00a0\u00a0 = 4.0"]}}
},
{
"data": {"values": [{}]},
"mark": {"type": "text", "align": "left", "baseline": "middle", "fontSize": 12.6, "color": "black", "font": "DejaVu Sans", "clip": false, "dy": 5},
"encoding": {"x": {"datum": 21.98}, "y": {"datum": 2.2645}, "text": {"value": "c"}}
},
{
"data": {"values": [{}]},
"mark": {"type": "text", "align": "left", "baseline": "middle", "fontSize": 12.6, "color": "black", "font": "DejaVu Sans", "clip": false, "dy": 5},
"encoding": {"x": {"datum": 22.01}, "y": {"datum": 0.7016}, "text": {"value": "bond"}}
},
{
"data": {"values": [{}]},
"mark": {"type": "text", "align": "left", "baseline": "middle", "fontSize": 12.6, "color": "black", "font": "DejaVu Sans", "clip": false, "dy": 5},
"encoding": {"x": {"datum": 22.1}, "y": {"datum": 0.5713}, "text": {"value": "scale"}}
}
]
}
